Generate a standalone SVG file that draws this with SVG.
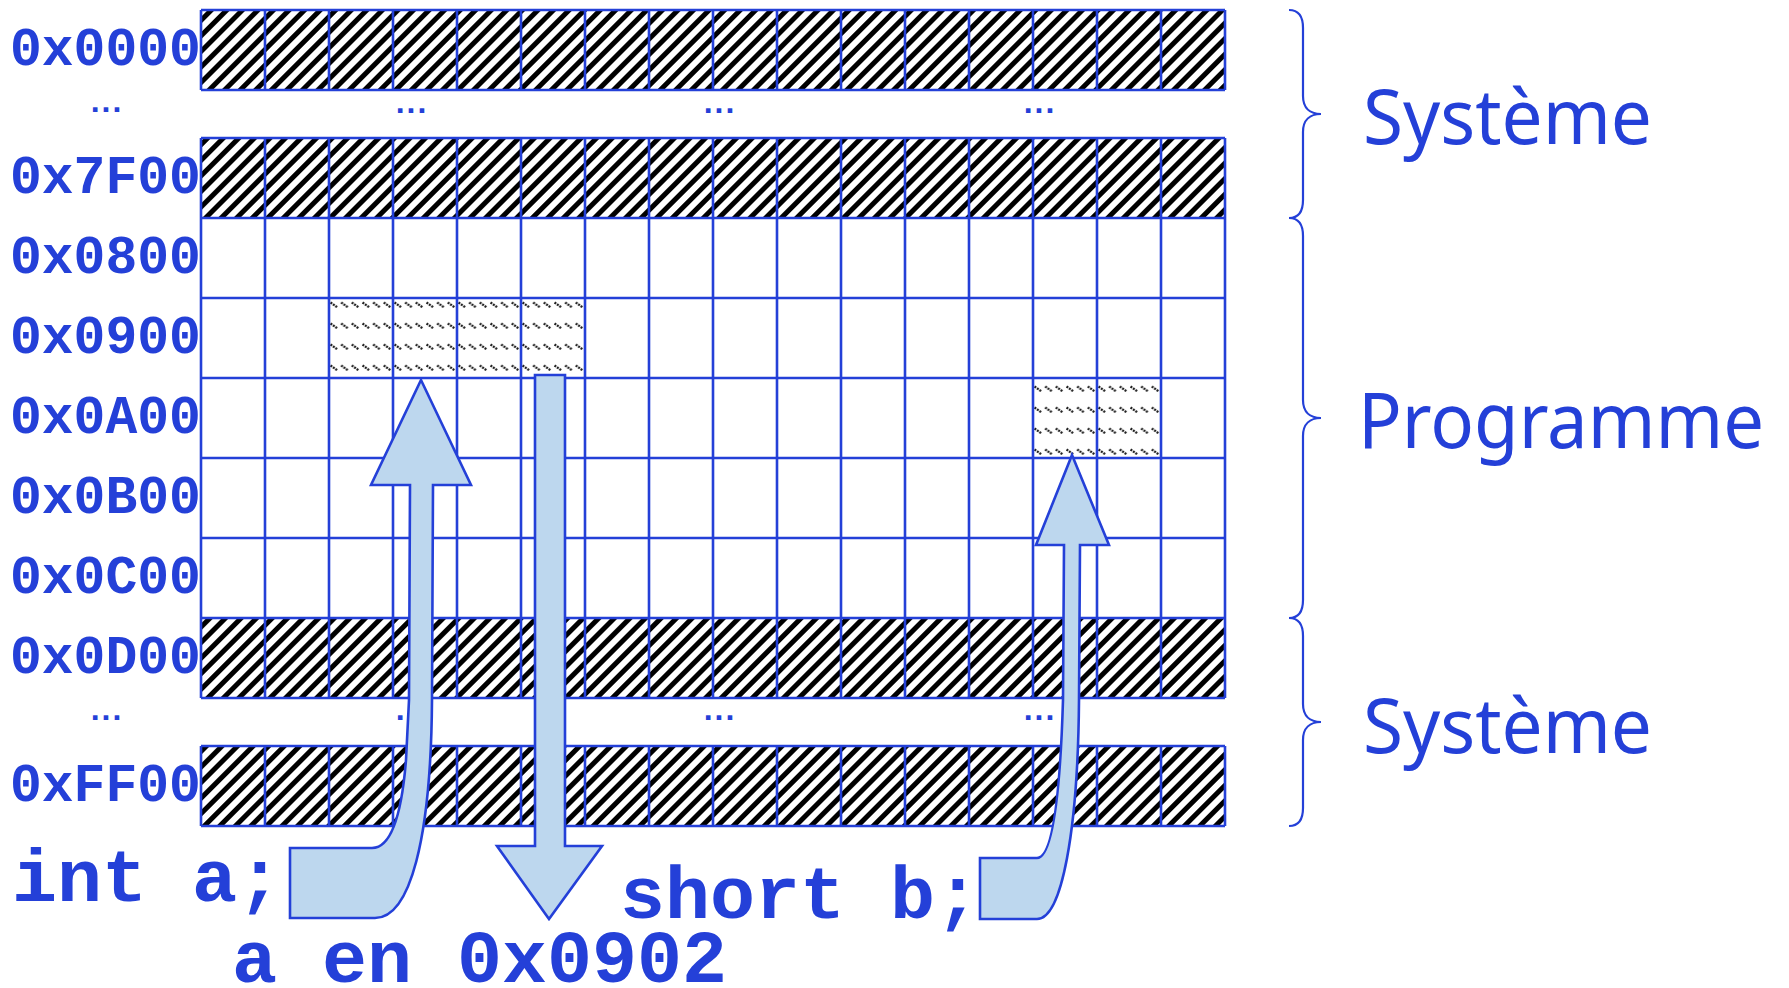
<svg xmlns="http://www.w3.org/2000/svg" width="1789" height="988" viewBox="0 0 1789 988">
<style>
.lbl{font-family:"Liberation Mono","Courier New",monospace;font-weight:bold;font-size:53px;fill:#2440D8}
.code{font-family:"Liberation Mono","Courier New",monospace;font-weight:bold;font-size:75px;fill:#2440D8}
.dots{font-family:"Liberation Sans",Arial,sans-serif;font-weight:bold;font-size:32px;letter-spacing:2px;fill:#2440D8;text-anchor:middle}
.big{font-family:"Noto Sans","Open Sans",sans-serif;font-size:76px;fill:#2440D8}
.grid{stroke:#2440D8;stroke-width:2.6;fill:none}
.brace{stroke:#2440D8;stroke-width:2.2;fill:none}
.arrow{fill:#BDD7EE;stroke:#2440D8;stroke-width:2.6;stroke-linejoin:miter}
</style>
<defs>
<pattern id="hatch" width="11" height="11" patternUnits="userSpaceOnUse" patternTransform="rotate(45)">
<rect width="11" height="11" fill="#fff"/>
<rect width="5" height="11" fill="#000"/>
</pattern>
<pattern id="lhatch" x="329" y="298" width="10.667" height="21" patternUnits="userSpaceOnUse">
<rect width="10.667" height="21" fill="#fff"/>
<line x1="1.5" y1="4.5" x2="8.5" y2="9.5" stroke="#1a1a1a" stroke-width="2.2" stroke-dasharray="2 1"/>
</pattern>
</defs>
<rect width="1789" height="988" fill="#fff"/>

<g id="memory">
<g id="row-0x0000">
<rect x="201" y="10" width="1024" height="80" fill="url(#hatch)"/>
<text class="lbl" x="10" y="65">0x0000</text>
</g>
<g id="gap-1">
<text class="dots" x="107" y="112">...</text>
<text class="dots" x="412" y="113">...</text>
<text class="dots" x="720" y="113">...</text>
<text class="dots" x="1040" y="113">...</text>
</g>
<g id="row-0x7F00">
<rect x="201" y="138" width="1024" height="80" fill="url(#hatch)"/>
<text class="lbl" x="10" y="193">0x7F00</text>
</g>
<g id="row-0x0800"><text class="lbl" x="10" y="273">0x0800</text></g>
<g id="row-0x0900">
<rect x="329" y="298" width="256" height="80" fill="url(#lhatch)"/>
<text class="lbl" x="10" y="353">0x0900</text>
</g>
<g id="row-0x0A00">
<rect x="1033" y="378" width="128" height="80" fill="url(#lhatch)"/>
<text class="lbl" x="10" y="433">0x0A00</text>
</g>
<g id="row-0x0B00"><text class="lbl" x="10" y="513">0x0B00</text></g>
<g id="row-0x0C00"><text class="lbl" x="10" y="593">0x0C00</text></g>
<g id="row-0x0D00">
<rect x="201" y="618" width="1024" height="80" fill="url(#hatch)"/>
<text class="lbl" x="10" y="673">0x0D00</text>
</g>
<g id="gap-2">
<text class="dots" x="107" y="720">...</text>
<text class="dots" x="412" y="720">...</text>
<text class="dots" x="720" y="720">...</text>
<text class="dots" x="1040" y="720">...</text>
</g>
<g id="row-0xFF00">
<rect x="201" y="746" width="1024" height="80" fill="url(#hatch)"/>
<text class="lbl" x="10" y="801">0xFF00</text>
</g>
<g id="grid-lines" class="grid">
<path d="M201 10H1225M201 90H1225M201 138H1225M201 218H1225M201 298H1225M201 378H1225M201 458H1225M201 538H1225M201 618H1225M201 698H1225M201 746H1225M201 826H1225"/>
<path d="M201 10V90M265 10V90M329 10V90M393 10V90M457 10V90M521 10V90M585 10V90M649 10V90M713 10V90M777 10V90M841 10V90M905 10V90M969 10V90M1033 10V90M1097 10V90M1161 10V90M1225 10V90"/>
<path d="M201 138V698M265 138V698M329 138V698M393 138V698M457 138V698M521 138V698M585 138V698M649 138V698M713 138V698M777 138V698M841 138V698M905 138V698M969 138V698M1033 138V698M1097 138V698M1161 138V698M1225 138V698"/>
<path d="M201 746V826M265 746V826M329 746V826M393 746V826M457 746V826M521 746V826M585 746V826M649 746V826M713 746V826M777 746V826M841 746V826M905 746V826M969 746V826M1033 746V826M1097 746V826M1161 746V826M1225 746V826"/>
</g>
</g>

<g id="brace-systeme-top">
<path class="brace" d="M1289 10C1298 10 1303 16 1303 28L1303 96C1303 108 1310 114 1321 114C1310 114 1303 120 1303 132L1303 200C1303 212 1298 218 1289 218"/>
<text class="big" x="1363" y="144" textLength="289" lengthAdjust="spacingAndGlyphs">Système</text>
</g>
<g id="brace-programme">
<path class="brace" d="M1289 218C1298 218 1303 224 1303 236L1303 400C1303 412 1310 418 1321 418C1310 418 1303 424 1303 436L1303 600C1303 612 1298 618 1289 618"/>
<text class="big" x="1358" y="448" textLength="406" lengthAdjust="spacingAndGlyphs">Programme</text>
</g>
<g id="brace-systeme-bottom">
<path class="brace" d="M1289 618C1298 618 1303 624 1303 636L1303 704C1303 716 1310 722 1321 722C1310 722 1303 728 1303 740L1303 808C1303 820 1298 826 1289 826"/>
<text class="big" x="1363" y="753" textLength="289" lengthAdjust="spacingAndGlyphs">Système</text>
</g>

<g id="code-labels">
<text class="code" x="12" y="901">int a;</text>
<text class="code" x="620" y="918">short b;</text>
<text class="code" x="232" y="982">a en 0x0902</text>
</g>

<g id="connectors">
<path id="arrow-int-a" class="arrow" d="M421 380L471 485L433 485L432 700C431 840 410 918 375 918L290 918L290 848L372 848C392 848 402 810 406 760L409 700L410 485L371 485Z"/>
<path id="arrow-addr" class="arrow" d="M535 375L565 375L565 846L602 846L549 919L497 846L535 846Z"/>
<path id="arrow-short-b" class="arrow" d="M1072 455L1109 545L1080 545L1079 700C1078 830 1062 919 1037 919L980 919L980 858L1037 858C1052 858 1060 800 1063 700L1064 545L1036 545Z"/>
</g>
</svg>
